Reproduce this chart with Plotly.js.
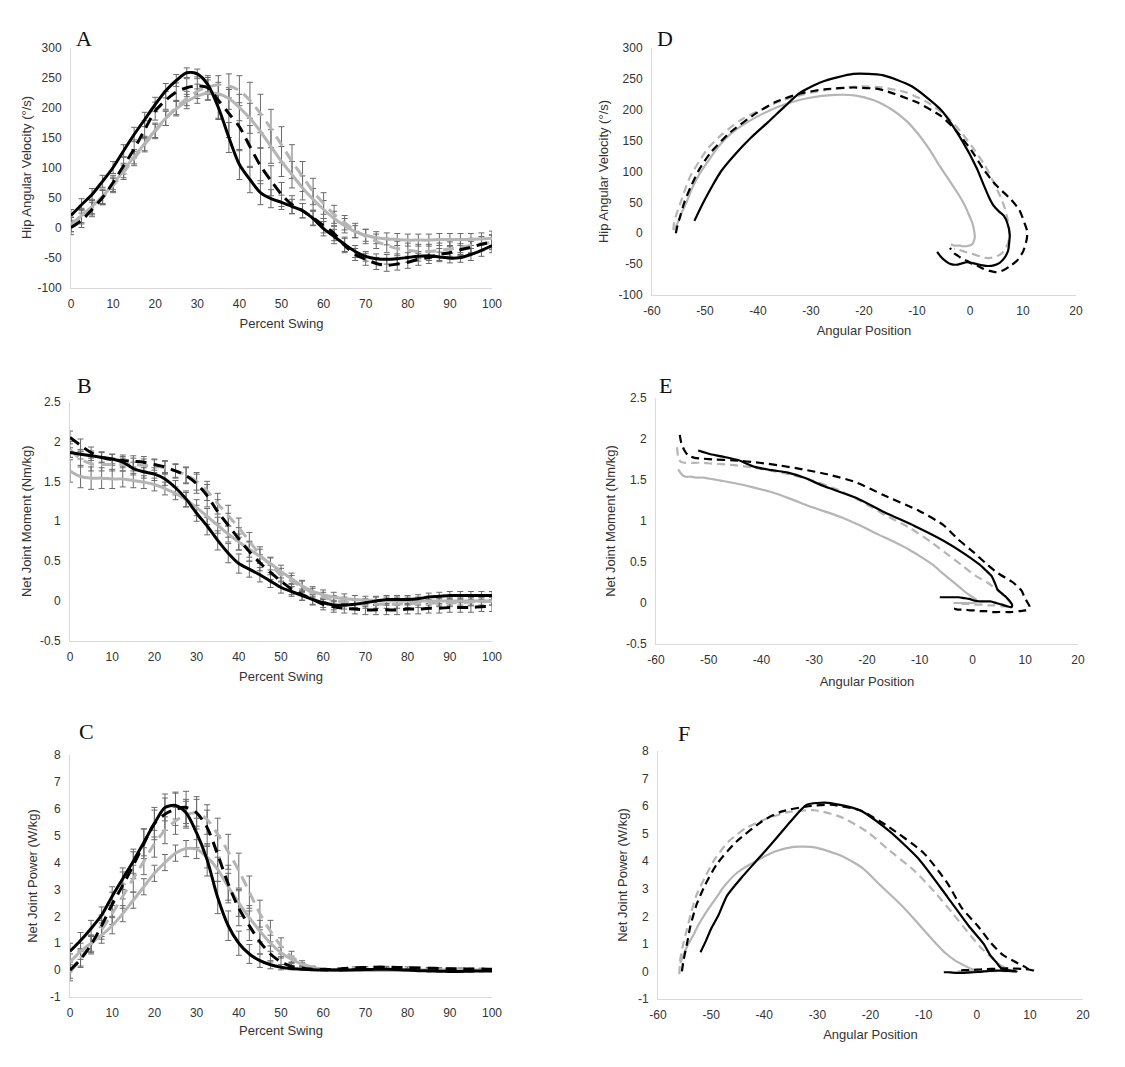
<!DOCTYPE html>
<html><head><meta charset="utf-8">
<script src="https://cdn.plot.ly/plotly-3.0.1.min.js"></script>
<style>html,body{margin:0;padding:0;background:#fff}</style>
</head><body><div id="chart" style="width:1125px;height:1067px"></div>
<script>
// ---------- DATA ----------
const pct = [0,2.5,5,7.5,10,12.5,15,17.5,20,22.5,25,27.5,30,32.5,35,37.5,40,42.5,45,47.5,50,52.5,55,57.5,60,62.5,65,67.5,70,72.5,75,77.5,80,82.5,85,87.5,90,92.5,95,97.5,100];

// Hip angular velocity (deg/s)
const BS_vel = [20,38,55,77,100,128,155,180,205,228,245,258,256,238,200,150,105,80,58,48,42,35,28,15,-2,-15,-28,-40,-48,-52,-53,-52,-50,-48,-47,-49,-51,-50,-45,-38,-30];
const BD_vel = [0,12,30,50,75,103,131,163,194,212,226,233,236,233,212,190,168,135,103,78,55,38,28,16,3,-10,-30,-45,-53,-60,-63,-61,-58,-53,-50,-45,-42,-37,-33,-28,-24];
const GS_vel = [5,20,35,52,72,95,118,140,162,182,198,210,219,224,223,215,200,182,160,135,110,88,66,47,30,15,3,-7,-13,-17,-19,-20,-21,-21,-21,-20,-20,-20,-20,-19,-18];
const GD_vel = [5,18,33,50,70,92,115,138,160,182,200,215,227,234,238,236,228,212,190,165,138,110,85,60,40,22,8,-5,-15,-23,-30,-35,-38,-40,-40,-38,-36,-33,-30,-27,-25];
const BS_velSD = [10,10,10,10,10,10,12,12,12,12,10,8,8,12,20,25,25,22,20,15,12,12,12,12,12,12,12,10,8,8,8,8,8,8,8,8,8,8,10,10,12];
const BD_velSD = [12,12,12,12,12,14,15,15,15,15,15,15,15,20,30,40,40,35,30,25,20,15,12,12,12,12,12,10,10,10,10,10,10,10,10,10,10,10,10,10,12];
const GS_velSD = [12,12,12,12,12,12,12,12,12,12,12,12,12,12,15,18,22,25,28,28,25,22,20,18,15,12,12,10,10,10,10,10,10,10,10,10,10,10,10,10,12];
const GD_velSD = [12,12,12,12,12,12,12,12,12,12,12,12,12,12,15,20,25,30,32,32,30,28,25,22,18,15,12,12,12,12,12,12,12,12,12,12,12,12,12,12,12];

// Net joint moment (Nm/kg)
const BS_mom = [1.86,1.84,1.82,1.80,1.78,1.74,1.66,1.62,1.59,1.53,1.42,1.28,1.10,0.94,0.76,0.60,0.47,0.40,0.33,0.25,0.17,0.12,0.07,0.02,-0.02,-0.05,-0.05,-0.04,-0.02,0.0,0.02,0.02,0.02,0.03,0.05,0.06,0.07,0.07,0.07,0.07,0.07];
const BD_mom = [2.05,1.95,1.86,1.80,1.77,1.76,1.75,1.74,1.71,1.68,1.63,1.57,1.47,1.32,1.12,0.95,0.78,0.62,0.48,0.36,0.25,0.15,0.08,0.02,-0.04,-0.07,-0.09,-0.10,-0.11,-0.11,-0.11,-0.11,-0.10,-0.10,-0.09,-0.09,-0.08,-0.08,-0.08,-0.07,-0.07];
const GS_mom = [1.63,1.56,1.54,1.54,1.53,1.53,1.51,1.49,1.46,1.41,1.35,1.27,1.17,1.06,0.95,0.84,0.74,0.65,0.56,0.47,0.37,0.28,0.19,0.12,0.08,0.05,0.03,0.02,0.01,0.01,0.0,0.0,0.0,0.0,0.0,0.0,0.0,0.0,0.0,0.0,0.0];
const GD_mom = [1.90,1.78,1.72,1.71,1.71,1.71,1.71,1.70,1.69,1.67,1.63,1.58,1.50,1.38,1.22,1.07,0.92,0.75,0.58,0.45,0.33,0.25,0.18,0.10,0.05,0.01,-0.01,-0.03,-0.04,-0.04,-0.04,-0.04,-0.03,-0.03,-0.03,-0.02,-0.02,-0.02,-0.01,-0.01,0.0];
const BS_momSD = [0.06,0.06,0.06,0.06,0.06,0.07,0.08,0.08,0.08,0.08,0.09,0.10,0.10,0.11,0.12,0.12,0.12,0.10,0.09,0.08,0.07,0.06,0.06,0.06,0.06,0.06,0.05,0.05,0.05,0.05,0.05,0.05,0.05,0.05,0.05,0.05,0.05,0.05,0.05,0.05,0.05];
const BD_momSD = [0.08,0.08,0.07,0.07,0.07,0.07,0.07,0.07,0.07,0.08,0.08,0.10,0.12,0.14,0.15,0.15,0.14,0.12,0.10,0.09,0.08,0.07,0.07,0.07,0.07,0.07,0.06,0.06,0.06,0.06,0.06,0.06,0.06,0.06,0.06,0.06,0.06,0.06,0.06,0.06,0.06];
const GS_momSD = [0.14,0.14,0.14,0.13,0.12,0.10,0.09,0.08,0.08,0.08,0.08,0.09,0.10,0.10,0.10,0.10,0.10,0.10,0.09,0.08,0.08,0.07,0.07,0.06,0.06,0.06,0.06,0.05,0.05,0.05,0.05,0.05,0.05,0.05,0.05,0.05,0.05,0.05,0.05,0.05,0.05];
const GD_momSD = [0.10,0.10,0.09,0.08,0.08,0.08,0.08,0.08,0.08,0.08,0.09,0.10,0.11,0.12,0.13,0.13,0.12,0.11,0.10,0.09,0.08,0.07,0.07,0.06,0.06,0.06,0.06,0.05,0.05,0.05,0.05,0.05,0.05,0.05,0.05,0.05,0.05,0.05,0.05,0.05,0.05];

// Net joint power (W/kg)
const BS_pow = [0.70,1.10,1.55,2.05,2.75,3.40,4.05,4.75,5.45,6.05,6.12,5.85,5.10,4.10,2.70,1.65,1.00,0.60,0.35,0.20,0.11,0.06,0.03,0.01,0.0,0.0,0.0,0.01,0.02,0.03,0.03,0.02,0.0,-0.02,-0.03,-0.04,-0.05,-0.05,-0.04,-0.03,-0.03];
const BD_pow = [0.0,0.40,0.95,1.65,2.45,3.15,3.90,4.70,5.45,5.80,5.98,6.05,5.85,5.30,4.30,3.20,2.30,1.65,1.05,0.60,0.30,0.14,0.07,0.03,0.02,0.03,0.06,0.09,0.10,0.11,0.11,0.10,0.09,0.08,0.07,0.06,0.05,0.05,0.04,0.04,0.03];
const GS_pow = [0.30,0.70,1.00,1.30,1.65,2.10,2.60,3.10,3.60,4.00,4.35,4.52,4.50,4.20,3.75,3.10,2.50,1.95,1.45,1.00,0.65,0.40,0.22,0.10,0.04,0.01,0.0,-0.01,-0.01,-0.01,-0.01,-0.01,0.0,0.0,0.0,0.0,0.0,0.0,0.0,0.0,0.0];
const GD_pow = [-0.10,0.45,0.95,1.50,2.10,2.75,3.40,4.05,4.70,5.20,5.55,5.78,5.85,5.60,5.05,4.40,3.70,2.90,2.10,1.45,0.90,0.50,0.25,0.10,0.04,0.01,0.0,0.0,0.0,0.0,0.01,0.01,0.01,0.01,0.01,0.01,0.0,0.0,0.0,0.0,0.0];
const BS_powSD = [0.30,0.30,0.30,0.30,0.35,0.40,0.45,0.50,0.50,0.50,0.50,0.50,0.55,0.60,0.60,0.55,0.45,0.35,0.25,0.15,0.10,0.05,0.03,0.03,0.03,0.03,0.03,0.03,0.03,0.03,0.03,0.03,0.03,0.03,0.03,0.03,0.03,0.03,0.03,0.03,0.03];
const BD_powSD = [0.30,0.30,0.35,0.40,0.45,0.50,0.50,0.55,0.60,0.60,0.60,0.60,0.60,0.65,0.70,0.70,0.65,0.55,0.45,0.30,0.20,0.10,0.05,0.03,0.03,0.03,0.03,0.03,0.03,0.03,0.03,0.03,0.03,0.03,0.03,0.03,0.03,0.03,0.03,0.03,0.03];
const GS_powSD = [0.30,0.30,0.30,0.30,0.30,0.30,0.30,0.30,0.30,0.30,0.30,0.30,0.35,0.40,0.45,0.50,0.50,0.45,0.40,0.30,0.20,0.12,0.06,0.03,0.03,0.03,0.03,0.03,0.03,0.03,0.03,0.03,0.03,0.03,0.03,0.03,0.03,0.03,0.03,0.03,0.03];
const GD_powSD = [0.30,0.30,0.30,0.35,0.40,0.45,0.50,0.50,0.50,0.50,0.50,0.50,0.50,0.55,0.60,0.65,0.65,0.60,0.50,0.40,0.30,0.20,0.10,0.05,0.03,0.03,0.03,0.03,0.03,0.03,0.03,0.03,0.03,0.03,0.03,0.03,0.03,0.03,0.03,0.03,0.03];

// Hip angular position (deg)
const BS_ang = [-52,-51.0,-50.0,-48.6,-47.0,-44.3,-41.3,-38.1,-35.0,-32.0,-28.0,-22.0,-16.5,-11.0,-5.5,-1.5,1.3,2.5,3.6,4.2,4.7,5.5,6.4,7.1,7.5,7.4,7.2,6.5,5.6,4.5,3.4,2.4,1.3,0.3,-0.6,-1.6,-2.6,-3.6,-4.6,-5.5,-6.2];
const BD_ang = [-55.5,-55.2,-54.6,-53.9,-52.7,-51.1,-48.9,-45.3,-40.4,-36.8,-32.2,-27.5,-22.0,-17.0,-10.0,-5.5,-2.8,0.2,2.6,4.9,7.7,9.3,9.8,10.3,10.8,10.7,10.0,8.8,7.6,6.3,5.0,3.7,2.6,1.5,0.5,-0.5,-1.4,-2.2,-2.9,-3.4,-3.8];
const GS_ang = [-55.8,-55.0,-54.3,-53.4,-52.5,-51.1,-49.3,-47.5,-45.0,-41.6,-38.0,-34.5,-30.5,-25.5,-21.5,-18.0,-14.7,-12.0,-9.7,-7.6,-5.8,-4.1,-2.4,-1.1,-0.2,0.5,0.8,0.9,0.7,0.5,0.2,-0.2,-0.6,-1.1,-1.5,-1.9,-2.3,-2.7,-3.0,-3.3,-3.6];
const GD_ang = [-56.0,-55.8,-55.3,-54.6,-53.8,-52.8,-51.2,-49.4,-46.8,-43.5,-39.5,-35.5,-30.5,-25.5,-20.5,-16.5,-12.0,-8.0,-4.5,-1.8,0.6,2.8,4.3,5.7,6.6,7.1,7.4,7.4,7.2,6.8,6.3,5.6,4.8,3.9,3.0,2.1,1.3,0.3,-1.0,-2.0,-3.0];

// Tick labels
const pctTicks = [0,10,20,30,40,50,60,70,80,90,100];
const pctText = ['0','10','20','30','40','50','60','70','80','90','100'];
const angTicks = [-60,-50,-40,-30,-20,-10,0,10,20];
const angText = ['-60','-50','-40','-30','-20','-10','0','10','20'];
const velTicks = [-100,-50,0,50,100,150,200,250,300];
const velText = ['-100','-50','0','50','100','150','200','250','300'];
const momTicks = [-0.5,0,0.5,1,1.5,2,2.5];
const momText = ['-0.5','0','0.5','1','1.5','2','2.5'];
const powTicks = [-1,0,1,2,3,4,5,6,7,8];
const powText = ['-1','0','1','2','3','4','5','6','7','8'];

const panelLetters = ['A','B','C','D','E','F'];
const yTitles = ['Hip Angular Velocity (°/s)','Net Joint Moment (Nm/kg)','Net Joint Power (W/kg)'];
const xTitleTime = 'Percent Swing';
const xTitleAng = 'Angular Position';

// ---------- BUILD ----------
const BLACK = '#000000', GRAY = '#b5b5b5', ERR = '#6a6a6a';
const order = ['GS','GD','BD','BS'];
const sty = {
  GS:{color:GRAY, dash:'solid'},
  GD:{color:GRAY, dash:'dash'},
  BD:{color:BLACK, dash:'dash'},
  BS:{color:BLACK, dash:'solid'}
};
const timePanels = [
  {xa:'x', ya:'y', vals:{BS:BS_vel,BD:BD_vel,GS:GS_vel,GD:GD_vel}, sd:{BS:BS_velSD,BD:BD_velSD,GS:GS_velSD,GD:GD_velSD}},
  {xa:'x2', ya:'y2', vals:{BS:BS_mom,BD:BD_mom,GS:GS_mom,GD:GD_mom}, sd:{BS:BS_momSD,BD:BD_momSD,GS:GS_momSD,GD:GD_momSD}},
  {xa:'x3', ya:'y3', vals:{BS:BS_pow,BD:BD_pow,GS:GS_pow,GD:GD_pow}, sd:{BS:BS_powSD,BD:BD_powSD,GS:GS_powSD,GD:GD_powSD}}
];
const angs = {BS:BS_ang,BD:BD_ang,GS:GS_ang,GD:GD_ang};
const angPanels = [
  {xa:'x4', ya:'y4', vals:timePanels[0].vals},
  {xa:'x5', ya:'y5', vals:timePanels[1].vals},
  {xa:'x6', ya:'y6', vals:timePanels[2].vals}
];

const traces = [];
timePanels.forEach(p => {
  order.forEach(s => {
    traces.push({x:pct, y:p.vals[s], xaxis:p.xa, yaxis:p.ya, type:'scatter', mode:'markers',
      marker:{size:2, color:'rgba(0,0,0,0)'}, hoverinfo:'skip', showlegend:false,
      error_y:{type:'data', array:p.sd[s], visible:true, color:ERR, thickness:1, width:3}});
  });
});
timePanels.forEach(p => {
  order.forEach(s => {
    traces.push({x:pct, y:p.vals[s], xaxis:p.xa, yaxis:p.ya, type:'scatter', mode:'lines', showlegend:false,
      line:{color:sty[s].color, width:3, dash: sty[s].dash==='dash' ? '11px,7px' : 'solid', shape:'spline', smoothing:0.8}});
  });
});
angPanels.forEach(p => {
  order.forEach(s => {
    traces.push({x:angs[s], y:p.vals[s], xaxis:p.xa, yaxis:p.ya, type:'scatter', mode:'lines', showlegend:false,
      line:{color:sty[s].color, width:2.2, dash: sty[s].dash==='dash' ? '8px,5px' : 'solid', shape:'spline', smoothing:0.6}});
  });
});

const W = 1125, H = 1067;
const fx = px => px / W;
const fy = px => 1 - px / H;
const TF = {family:'Liberation Sans, Arial, sans-serif', size:12, color:'#333333'};
const TTF = {family:'Liberation Sans, Arial, sans-serif', size:13, color:'#333333'};

function xAxis(l, r, range, tv, tt, anchor, title, standoff){
  return {domain:[fx(l), fx(r)], range:range, anchor:anchor, tickmode:'array', tickvals:tv, ticktext:tt,
    showline:true, linecolor:'#d9d9d9', linewidth:1, showgrid:false, zeroline:false,
    ticks:'outside', ticklen:5, tickcolor:'rgba(0,0,0,0)', tickfont:TF,
    title:{text:title, font:TTF, standoff:standoff}, fixedrange:true};
}
function yAxis(top, bottom, range, tv, tt, anchor, title, standoff){
  return {domain:[fy(bottom), fy(top)], range:range, anchor:anchor, tickmode:'array', tickvals:tv, ticktext:tt,
    showline:true, linecolor:'#d9d9d9', linewidth:1, showgrid:false, zeroline:false,
    ticks:'outside', ticklen:6, tickcolor:'rgba(0,0,0,0)', tickfont:TF,
    title:{text:title, font:TTF, standoff:standoff}, fixedrange:true};
}

const layout = {
  width:W, height:H, margin:{l:0,r:0,t:0,b:0}, paper_bgcolor:'#ffffff', plot_bgcolor:'#ffffff', showlegend:false,
  xaxis:  xAxis(71, 492, [0,100], pctTicks, pctText, 'y', xTitleTime, 8),
  yaxis:  yAxis(47.5, 287.5, [-100,300], velTicks, velText, 'x', yTitles[0], 3),
  xaxis2: xAxis(70, 492, [0,100], pctTicks, pctText, 'y2', xTitleTime, 8),
  yaxis2: yAxis(401.5, 641, [-0.5,2.5], momTicks, momText, 'x2', yTitles[1], 5),
  xaxis3: xAxis(70, 492, [0,100], pctTicks, pctText, 'y3', xTitleTime, 6),
  yaxis3: yAxis(755, 997, [-1,8], powTicks, powText, 'x3', yTitles[2], 9),
  xaxis4: xAxis(652, 1076, [-60,20], angTicks, angText, 'y4', xTitleAng, 8),
  yaxis4: yAxis(48, 295, [-100,300], velTicks, velText, 'x4', yTitles[0], 7),
  xaxis5: xAxis(656, 1078, [-60,20], angTicks, angText, 'y5', xTitleAng, 10),
  yaxis5: yAxis(398, 644, [-0.5,2.5], momTicks, momText, 'x5', yTitles[1], 7),
  xaxis6: xAxis(658, 1083, [-60,20], angTicks, angText, 'y6', xTitleAng, 8),
  yaxis6: yAxis(751, 999, [-1,8], powTicks, powText, 'x6', yTitles[2], 7),
  annotations: [
    [84,38],[84,385],[86,732],[665,38],[665,385],[684,733]
  ].map((p,i) => ({xref:'paper', yref:'paper', x:fx(p[0]), y:fy(p[1]), xanchor:'center', yanchor:'middle',
      text:panelLetters[i], showarrow:false, font:{family:'Liberation Serif, Times New Roman, serif', size:22, color:'#111'}}))
};

Plotly.newPlot('chart', traces, layout, {displayModeBar:false, staticPlot:true});
</script></body></html>
